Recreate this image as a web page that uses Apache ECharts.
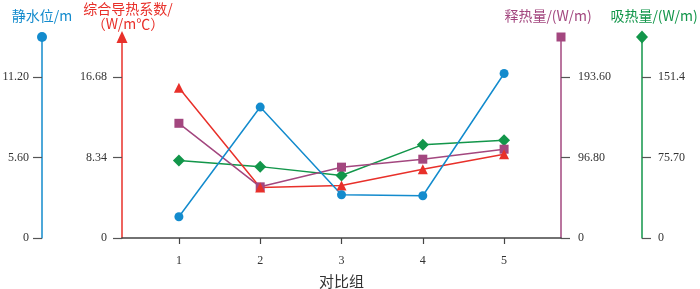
<!DOCTYPE html>
<html><head><meta charset="utf-8">
<script src="https://cdn.jsdelivr.net/npm/echarts@6/dist/echarts.min.js"></script>
<style>html,body{margin:0;padding:0;background:#fff}#c{width:700px;height:289px}</style>
</head><body><div id="c"></div>
<script>
const categories = [1, 2, 3, 4, 5];
const waterLevel = [1.48, 9.12, 3.01, 2.94, 11.46];
const conductivity = [15.58, 5.24, 5.44, 7.14, 8.69];
const heatRelease = [138.1, 61.6, 85.3, 94.9, 106.9];
const heatAbsorb = [72.9, 67.2, 58.8, 87.9, 92.0];
const waterTicks = [0, 5.6, 11.2];
const waterTickLabels = ['0', '5.60', '11.20'];
const condTicks = [0, 8.34, 16.68];
const condTickLabels = ['0', '8.34', '16.68'];
const releaseTicks = [0, 96.8, 193.6];
const releaseTickLabels = ['0', '96.80', '193.60'];
const absorbTicks = [0, 75.7, 151.4];
const absorbTickLabels = ['0', '75.70', '151.4'];

const BLUE = '#138bcd', RED = '#e8302a', PURPLE = '#a3477f', GREEN = '#12964a';
const CJK = '"Noto Sans CJK SC", sans-serif';
const SERIF = '"Liberation Serif", "DejaVu Serif", serif';

function pick(ticks, labels) {
  return function (v) {
    let best = 0, d = Infinity;
    ticks.forEach((t, i) => { const dd = Math.abs(t - v); if (dd < d) { d = dd; best = i; } });
    return labels[best];
  };
}

function yAx(name, color, position, offset, ticks, labels, sym, symSize, namePad, nameGap, margin) {
  return {
    type: 'value', name: name, position: position, offset: offset,
    min: 0, max: ticks[1] * 2.5,
    nameLocation: 'end', nameGap: nameGap,
    nameTextStyle: { color: color, fontSize: 14, fontFamily: CJK, padding: namePad, lineHeight: 15 },
    axisLine: { show: true, onZero: false, lineStyle: { color: color, width: 1.5 }, symbol: ['none', sym], symbolSize: symSize },
    axisTick: { show: true, inside: false, length: 9, customValues: ticks, lineStyle: { color: '#555', width: 1.2 } },
    axisLabel: { show: true, customValues: ticks, formatter: pick(ticks, labels), margin: margin, color: '#333', fontFamily: SERIF, fontSize: 12 },
    splitLine: { show: false }
  };
}

function ser(yi, data, color, symbol, size) {
  return {
    type: 'line', yAxisIndex: yi,
    data: categories.map((c, i) => [c, data[i]]),
    symbol: symbol, symbolSize: size, showAllSymbol: true,
    itemStyle: { color: color }, lineStyle: { color: color, width: 1.5 },
    emphasis: { disabled: true }
  };
}

const chart = echarts.init(document.getElementById('c'), null, { renderer: 'canvas' });
chart.setOption({
  animation: false,
  backgroundColor: '#fff',
  grid: { left: 122, right: 139, top: 37, bottom: 51, containLabel: false, outerBoundsMode: 'none' },
  xAxis: {
    type: 'value', min: 0.3, max: 5.7,
    name: '对比组', nameLocation: 'middle', nameGap: 36,
    nameTextStyle: { fontSize: 15, color: '#333', fontFamily: CJK },
    axisLine: { show: true, onZero: false, lineStyle: { color: '#444', width: 1.5 } },
    axisTick: { show: true, length: 6, customValues: categories, lineStyle: { color: '#444', width: 1.2 } },
    axisLabel: { customValues: categories, margin: 17, fontFamily: SERIF, fontSize: 12, color: '#333' },
    splitLine: { show: false }
  },
  yAxis: [
    yAx('静水位/m', BLUE, 'left', 80, waterTicks, waterTickLabels, 'circle', [10, 10], [0, 0, 0, 0], 14, 13),
    yAx('综合导热系数/\n（W/m℃）', RED, 'left', 0, condTicks, condTickLabels, 'triangle', [11, 12], [0, 0, 0, 12], 6, 15),
    yAx('释热量/(W/m)', PURPLE, 'right', 0, releaseTicks, releaseTickLabels, 'rect', [9, 9], [0, 26, 0, 0], 14, 17),
    yAx('吸热量/(W/m)', GREEN, 'right', 81, absorbTicks, absorbTickLabels, 'diamond', [12, 13], [0, 0, 0, 24], 14, 16)
  ],
  series: [
    ser(3, heatAbsorb, GREEN, 'diamond', 12),
    ser(2, heatRelease, PURPLE, 'rect', 9),
    ser(1, conductivity, RED, 'triangle', 10),
    ser(0, waterLevel, BLUE, 'circle', 9)
  ]
});
</script>
</body></html>
